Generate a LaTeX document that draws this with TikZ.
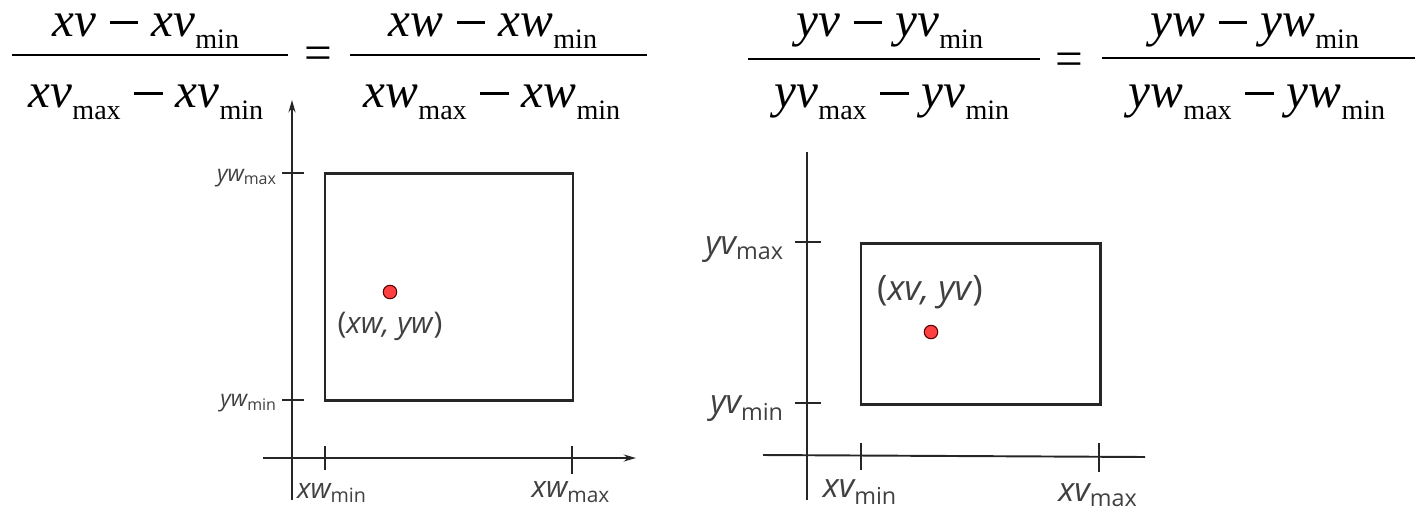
\documentclass[tikz,border=0pt]{standalone}
\usepackage{fontspec}
\setmainfont{Liberation Serif}
\newfontfamily\labelfont{Open Sans}
\usetikzlibrary{arrows.meta}

\newcommand{\vsub}[2]{\textit{#1}\raisebox{-7pt}{\fontsize{16}{16}\selectfont #2}}
\newcommand{\vminus}{\hspace{0.27em}\rule[0.24em]{0.58em}{0.055em}\hspace{0.27em}}
\newcommand{\axsub}[2]{{\itshape #1}\textsubscript{#2}}

\begin{document}
\begin{tikzpicture}[x=0.02cm, y=-0.02cm,
                eqn/.style={font=\fontsize{28}{34}\selectfont, inner sep=0pt, anchor=base, text height=0.5em, text depth=0.3em},
                fracbar/.style={line width=1.4pt},
                axis/.style={line width=1.1pt, black!85},
                arrowaxis/.style={axis, -{Stealth[length=7pt, width=4pt]}},
                frame/.style={draw, line width=1.7pt, black!85},
                tickmark/.style={line width=0.9pt, black!85},
                dot/.style={circle, fill=red!75!white, draw=red!35!black, line width=0.6pt, minimum size=0.27cm, inner sep=0pt},
                lbl/.style={font=\labelfont\fontsize{#1}{#1}\selectfont, text=black!75, inner sep=1pt}
            ]
                \useasboundingbox (0,0) rectangle (1418,515);

                % Equation in x
                \node[eqn] (num_xv) at (146,36) {\textit{xv}\vminus\vsub{xv}{min}};
                \draw[fracbar] (12,55) -- (288,55);
                \node[eqn] (den_xv) at (146,107) {\vsub{xv}{max}\vminus\vsub{xv}{min}};
                \node[eqn] (eq_x) at (318,69) {=};
                \node[eqn] (num_xw) at (493,36) {\textit{xw}\vminus\vsub{xw}{min}};
                \draw[fracbar] (350,55) -- (647,55);
                \node[eqn] (den_xw) at (492,107) {\vsub{xw}{max}\vminus\vsub{xw}{min}};

                % Equation in y
                \node[eqn] (num_yv) at (890,36) {\textit{yv}\vminus\vsub{yv}{min}};
                \draw[fracbar] (748,59) -- (1040,59);
                \node[eqn] (den_yv) at (892,107) {\vsub{yv}{max}\vminus\vsub{yv}{min}};
                \node[eqn] (eq_y) at (1069,75) {=};
                \node[eqn] (num_yw) at (1255,36) {\textit{yw}\vminus\vsub{yw}{min}};
                \draw[fracbar] (1102,58) -- (1415,58);
                \node[eqn] (den_yw) at (1257,107) {\vsub{yw}{max}\vminus\vsub{yw}{min}};

                % Window (left)
                \coordinate (w_ybot) at (292,500);
                \coordinate (w_ytop) at (292,100);
                \coordinate (w_xleft) at (263,458);
                \coordinate (w_xright) at (636,458);
                \draw[arrowaxis] (w_ybot) -- (w_ytop);
                \draw[arrowaxis] (w_xleft) -- (w_xright);
                \draw[frame] (325,173) rectangle (573,400);

                \draw[tickmark] (282,173) -- (304,173);
                \draw[tickmark] (282,400) -- (304,400);
                \draw[tickmark] (325,446) -- (325,470);
                \draw[tickmark] (572,446) -- (572,474);

                \node[lbl=13, anchor=east] (yw_max) at (279,178) {\axsub{yw}{max}};
                \node[lbl=13, anchor=east] (yw_min) at (279,403) {\axsub{yw}{min}};
                \node[lbl=16] (xw_min) at (332,493) {\axsub{xw}{min}};
                \node[lbl=17] (xw_max) at (571,492) {\axsub{xw}{max}};

                \node[dot] (pt_w) at (390,292) {};
                \node[lbl=17] (pt_w_lbl) at (390,326) {(\textit{xw, yw})};

                % Viewport (right)
                \coordinate (v_ybot) at (807,500);
                \coordinate (v_ytop) at (807,152);
                \coordinate (v_xleft) at (763,455);
                \coordinate (v_xright) at (1145,457);
                \draw[axis] (v_ybot) -- (v_ytop);
                \draw[axis] (v_xleft) -- (v_xright);
                \draw[frame] (861,243) rectangle (1100,404);

                \draw[tickmark] (795,242) -- (821,242);
                \draw[tickmark] (795,403) -- (821,403);
                \draw[tickmark] (861,443) -- (861,470);
                \draw[tickmark] (1099,443) -- (1099,472);

                \node[lbl=19, anchor=east] (yv_max) at (786,250) {\axsub{yv}{max}};
                \node[lbl=19, anchor=east] (yv_min) at (786,409) {\axsub{yv}{min}};
                \node[lbl=19] (xv_min) at (860,492) {\axsub{xv}{min}};
                \node[lbl=19] (xv_max) at (1098,495) {\axsub{xv}{max}};

                \node[dot] (pt_v) at (931,332) {};
                \node[lbl=20] (pt_v_lbl) at (930,292) {(\textit{xv, yv})};
            \end{tikzpicture}
\end{document}
